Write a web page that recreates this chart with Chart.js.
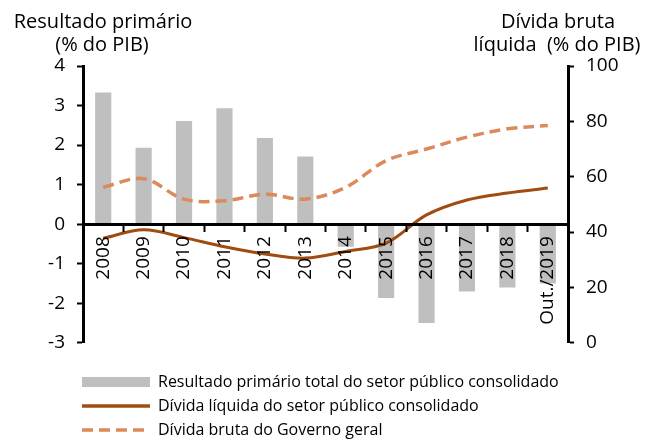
<!DOCTYPE html>
<html>
<head>
<meta charset="utf-8">
<script src="https://cdn.jsdelivr.net/npm/chart.js@4.4.1/dist/chart.umd.min.js"></script>
<style>
html,body{margin:0;padding:0;background:#fff;}
</style>
</head>
<body>
<canvas id="c" width="659" height="441"></canvas>
<script>
const categories = ['2008','2009','2010','2011','2012','2013','2014','2015','2016','2017','2018','Out./2019'];
const primaryResult = [3.33, 1.93, 2.61, 2.93, 2.18, 1.71, -0.57, -1.87, -2.50, -1.70, -1.60, -1.50];
const netDebt = [37.8, 40.8, 38.0, 34.7, 32.1, 30.6, 33.0, 36.0, 46.2, 51.6, 54.1, 55.9];
const grossDebt = [56.2, 59.3, 51.9, 51.3, 53.7, 51.9, 56.2, 65.8, 70.0, 74.3, 77.3, 78.5];
const leftTicks = [-3, -2, -1, 0, 1, 2, 3, 4];
const rightTicks = [0, 20, 40, 60, 80, 100];
const seriesNames = ['Resultado primário total do setor público consolidado','Dívida líquida do setor público consolidado','Dívida bruta do Governo geral'];
const leftTitle = ['Resultado primário','(% do PIB)'];
const rightTitle = ['Dívida bruta','líquida  (% do PIB)'];

const FONT = 'Open Sans';
Chart.defaults.font.family = FONT;
Chart.defaults.color = '#000';

const cv = document.getElementById('c');

const titlesPlugin = {
  id: 'titles',
  afterDraw(chart) {
    const ctx = chart.ctx;
    ctx.save();
    ctx.fillStyle = '#000';
    ctx.font = '20px ' + FONT;
    ctx.textAlign = 'center';
    ctx.textBaseline = 'alphabetic';
    ctx.fillText(leftTitle[0], 103, 28);
    ctx.fillText(leftTitle[1], 102, 51);
    ctx.fillText(rightTitle[0], 558, 28);
    ctx.fillText(rightTitle[1], 557, 51);
    ctx.restore();
  }
};
const legendShift = {
  id: 'legendShift',
  afterLayout(chart) {
    const lg = chart.legend;
    const dx = 82 - 8 - lg.left;
    lg.left += dx; lg.right += dx;
    lg.top += 7; lg.bottom += 7;
  }
};

new Chart(cv, {
  data: {
    labels: categories,
    datasets: [
      { type: 'bar', label: seriesNames[0], data: primaryResult, yAxisID: 'y', backgroundColor: '#BFBFBF', borderWidth: 0, categoryPercentage: 1, barPercentage: 0.4, order: 3 },
      { type: 'line', label: seriesNames[1], data: netDebt, yAxisID: 'y1', borderColor: '#A04C10', backgroundColor: '#A04C10', borderWidth: 3, pointRadius: 0, tension: 0.35, fill: false, order: 2 },
      { type: 'line', label: seriesNames[2], data: grossDebt, yAxisID: 'y1', borderColor: '#DA8A5C', backgroundColor: '#DA8A5C', borderWidth: 3.5, borderDash: [11, 6], pointRadius: 0, tension: 0.35, fill: false, order: 1 }
    ]
  },
  options: {
    responsive: false,
    animation: false,
    layout: { padding: { top: 66, left: 0, right: 0, bottom: 0 } },
    plugins: {
      title: { display: false },
      tooltip: { enabled: false },
      legend: {
        position: 'bottom',
        align: 'start',
        fullSize: true,
        title: { display: true, text: '', font: { size: 1 }, padding: { top: 15, bottom: 0 } },
        labels: {
          usePointStyle: true,
          pointStyleWidth: 68,
          boxHeight: 10,
          padding: 8,
          font: { size: 16 },
          color: '#000',
          generateLabels(chart) {
            return chart.data.datasets.map((ds, i) => ({
              text: ds.label,
              fillStyle: ds.type === 'bar' ? ds.backgroundColor : ds.borderColor,
              strokeStyle: ds.type === 'bar' ? ds.backgroundColor : ds.borderColor,
              lineWidth: ds.type === 'bar' ? 0 : 3.5,
              lineDash: ds.borderDash || [],
              lineCap: 'butt',
              pointStyle: ds.type === 'bar' ? 'rect' : 'line',
              datasetIndex: i,
              hidden: false
            }));
          }
        }
      }
    },
    scales: {
      x: {
        position: { y: 0 },
        offset: true,
        grid: { display: true, drawOnChartArea: false, drawTicks: true, tickLength: 6, tickWidth: 2, offset: true, color: '#000', z: 1 },
        border: { display: true, color: '#000', width: 3, z: 1 },
        ticks: { minRotation: 90, maxRotation: 90, autoSkip: false, padding: 6, font: { size: 19 }, color: '#000', z: 1 }
      },
      y: {
        position: 'left',
        min: -3, max: 4,
        afterBuildTicks(s) { s.ticks = leftTicks.map(v => ({ value: v })); },
        grid: { drawOnChartArea: false, drawTicks: true, tickLength: 6, tickWidth: 2, color: '#000' },
        border: { display: true, color: '#000', width: 3 },
        ticks: { font: { size: 19 }, color: '#000', padding: 12 },
        afterFit(s) { s.width = 83; }
      },
      y1: {
        position: 'right',
        min: 0, max: 100,
        afterBuildTicks(s) { s.ticks = rightTicks.map(v => ({ value: v })); },
        grid: { drawOnChartArea: false, drawTicks: true, tickLength: 6, tickWidth: 2, color: '#000' },
        border: { display: true, color: '#000', width: 3 },
        ticks: { font: { size: 19 }, color: '#000', padding: 12 },
        afterFit(s) { s.width = 91; }
      }
    }
  },
  plugins: [titlesPlugin, legendShift]
});
</script>
</body>
</html>
